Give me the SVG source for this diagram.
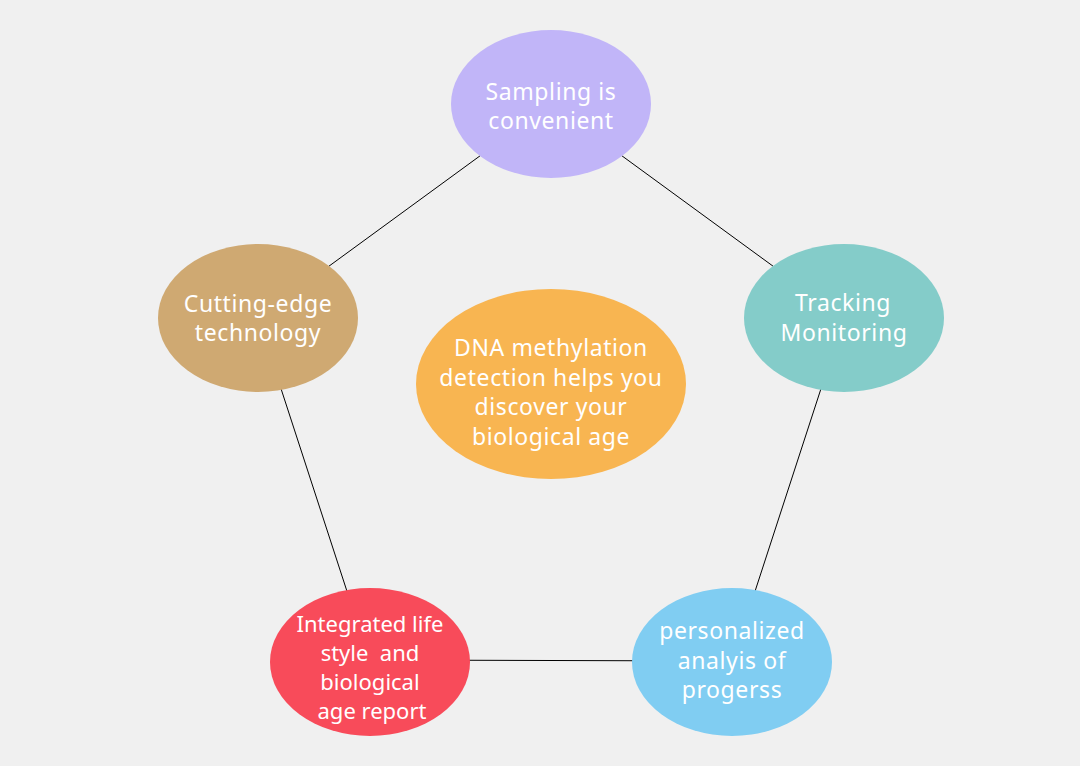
<svg xmlns="http://www.w3.org/2000/svg" width="1080" height="766" viewBox="0 0 1080 766">
<style>
.t{font-family:"Noto Sans","Open Sans",sans-serif;font-size:23px;letter-spacing:0.6px;fill:#fff;text-anchor:middle}
.s{font-size:22px;letter-spacing:0}
.c{stroke:#000;stroke-width:1;fill:none}
</style>
<rect width="1080" height="766" fill="#f0f0f0"/>
<g id="connectors">
<line class="c" x1="551" y1="104" x2="258" y2="318"/>
<line class="c" x1="551" y1="104" x2="844" y2="318"/>
<line class="c" x1="258" y1="318" x2="370" y2="662"/>
<line class="c" x1="844" y1="318" x2="732" y2="662"/>
<line class="c" x1="370" y1="660" x2="732" y2="661"/>
</g>
<g id="center">
<ellipse cx="551" cy="384" rx="135" ry="95" fill="#f8b551"/>
<text class="t" x="551" y="356">DNA methylation</text>
<text class="t" x="551" y="386">detection helps you</text>
<text class="t" x="551" y="415">discover your</text>
<text class="t" x="551" y="445">biological age</text>
</g>
<g id="sampling">
<ellipse cx="551" cy="104" rx="100" ry="74" fill="#c1b5f8"/>
<text class="t" x="551" y="100">Sampling is</text>
<text class="t" x="551" y="129">convenient</text>
</g>
<g id="cutting">
<ellipse cx="258" cy="318" rx="100" ry="74" fill="#cfa972"/>
<text class="t" x="258" y="312">Cutting-edge</text>
<text class="t" x="258" y="341">technology</text>
</g>
<g id="tracking">
<ellipse cx="844" cy="318" rx="100" ry="74" fill="#84ccc9"/>
<text class="t" x="843" y="311">Tracking</text>
<text class="t" x="844" y="341">Monitoring</text>
</g>
<g id="integrated">
<ellipse cx="370" cy="662" rx="100" ry="74" fill="#f84b5a"/>
<text class="t s" x="370" y="632">Integrated life</text>
<text class="t s" x="370" y="661" xml:space="preserve">style  and</text>
<text class="t s" x="370" y="690">biological</text>
<text class="t s" x="372" y="719">age report</text>
</g>
<g id="personalized">
<ellipse cx="732" cy="662" rx="100" ry="74" fill="#80cdf2"/>
<text class="t" x="732" y="639">personalized</text>
<text class="t" x="732" y="669">analyis of</text>
<text class="t" x="732" y="698">progerss</text>
</g>
</svg>
